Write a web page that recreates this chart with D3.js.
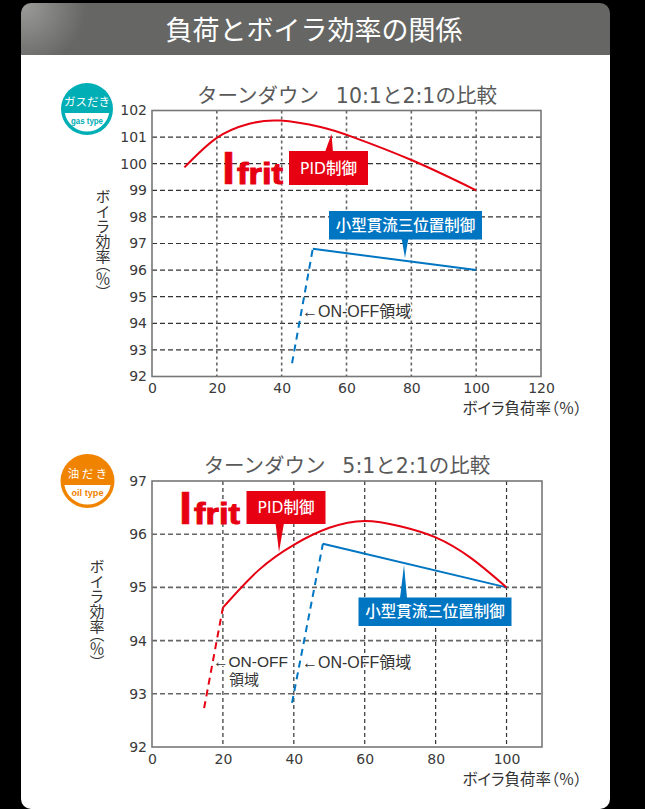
<!DOCTYPE html>
<html lang="ja">
<head>
<meta charset="utf-8">
<title>負荷とボイラ効率の関係</title>
<script src="https://cdn.jsdelivr.net/npm/d3@7/dist/d3.min.js"></script>
<style>
  html, body { margin: 0; padding: 0; background: #000; }
  svg { display: block; }
  text { font-family: "Liberation Sans", "Noto Sans CJK JP", sans-serif; }
  .tick text { font-family: "DejaVu Sans", sans-serif; font-size: 14px; fill: #3a3a3a; }
</style>
</head>
<body>
<svg id="page" width="645" height="809"></svg>
<script>
// Boiler efficiency against load: turndown 10:1 vs 2:1 (gas)
const gasTicksX = [0, 20, 40, 60, 80, 100, 120];
const gasTicksY = [92, 93, 94, 95, 96, 97, 98, 99, 100, 101, 102];
const gasPid = [[10, 99.86], [20, 100.97], [30, 101.5], [39.5, 101.62], [52, 101.38], [62, 101.0], [80.4, 100.12], [100, 99.0]];
const gasSmall = [[49.6, 96.8], [100, 96.0]];
const gasSmallOnOff = [[43.2, 92.5], [49.6, 96.8]];

// Turndown 5:1 vs 2:1 (oil)
const oilTicksX = [0, 20, 40, 60, 80, 100];
const oilTicksY = [92, 93, 94, 95, 96, 97];
const oilPid = [[20, 94.62], [30, 95.32], [40, 95.8], [50, 96.12], [60, 96.25], [70, 96.15], [80, 95.94], [90, 95.55], [100, 95.0]];
const oilPidOnOff = [[14.7, 92.73], [20, 94.62]];
const oilSmall = [[48.2, 95.82], [100, 95.0]];
const oilSmallOnOff = [[39.5, 92.83], [48.2, 95.82]];

const RED = "#e60012", BLUE = "#0075c2";
const CJK_WIDE = '"DejaVu Sans", "Noto Sans CJK JP"';
const CJK = '"Noto Sans CJK JP"';
const svg = d3.select("#page");

// Panel and header band
const defs = svg.append("defs");
const shine = defs.append("radialGradient").attr("id", "shine")
  .attr("gradientUnits", "userSpaceOnUse").attr("cx", 24).attr("cy", 6).attr("r", 62);
shine.append("stop").attr("offset", 0).attr("stop-color", "#9a9b99");
shine.append("stop").attr("offset", 1).attr("stop-color", "#666764");
svg.append("path").attr("fill", "#fff")
  .attr("d", "M21,55 H610 V799 a10,10 0 0 1 -10,10 H31 a10,10 0 0 1 -10,-10 Z");
svg.append("path").attr("fill", "url(#shine)")
  .attr("d", "M21,55 V13 a10,10 0 0 1 10,-10 H600 a10,10 0 0 1 10,10 V55 Z");
svg.append("text").attr("x", 314).attr("y", 40).attr("text-anchor", "middle")
  .attr("fill", "#fff").attr("font-size", 27).style("font-family", CJK)
  .text("負荷とボイラ効率の関係");

function plot(o) {
  const x = d3.scaleLinear().domain(o.xDomain).range([o.left, o.right]);
  const y = d3.scaleLinear().domain(o.yDomain).range([o.bottom, o.top]);
  const g = svg.append("g");

  g.append("text").attr("x", o.titleX).attr("y", o.top - 8).attr("text-anchor", "middle")
    .attr("fill", "#595959").attr("font-size", 20.5).style("font-family", CJK_WIDE)
    .text(o.title);

  // Dashed grid
  g.selectAll(".gy").data(o.ticksY.slice(1, -1)).join("line")
    .attr("x1", o.left).attr("x2", o.right)
    .attr("y1", d => y(d)).attr("y2", d => y(d))
    .attr("stroke", o.hColor).attr("stroke-width", o.hWidth).attr("stroke-dasharray", o.hDash);
  g.selectAll(".gx").data(o.ticksX.slice(1).filter(d => d < o.xDomain[1])).join("line")
    .attr("y1", o.top).attr("y2", o.bottom)
    .attr("x1", d => x(d)).attr("x2", d => x(d))
    .attr("stroke", o.vColor).attr("stroke-width", o.vWidth).attr("stroke-dasharray", o.vDash);

  // Axes
  const ax = g.append("g").attr("transform", `translate(0,${o.bottom})`)
    .call(d3.axisBottom(x).tickValues(o.ticksX).tickFormat(d3.format("d")).tickSize(0).tickPadding(7));
  const ay = g.append("g").attr("transform", `translate(${o.left},0)`)
    .call(d3.axisLeft(y).tickValues(o.ticksY).tickFormat(d3.format("d")).tickSize(0).tickPadding(5));
  ax.select(".domain").remove();
  ay.select(".domain").remove();
  g.append("rect").attr("x", o.left).attr("y", o.top)
    .attr("width", o.right - o.left).attr("height", o.bottom - o.top)
    .attr("fill", "none").attr("stroke", "#777").attr("stroke-width", 1.6);

  g.append("text").attr("x", 582).attr("y", o.bottom + 37.5).attr("text-anchor", "end")
    .attr("fill", "#333").attr("font-size", 15.5).style("font-family", CJK)
    .style("font-feature-settings", '"palt"')
    .text("ボイラ負荷率（％）");
  const yLabel = g.append("text")
    .attr("transform", `translate(${o.yLabelX},${o.yLabelY})`)
    .style("writing-mode", "vertical-rl").style("font-family", CJK)
    .attr("fill", "#333").attr("font-size", 15);
  yLabel.append("tspan").text("ボイラ効率");
  yLabel.append("tspan").style("font-feature-settings", '"vpal"').text("（％）");

  // Efficiency curves
  const straight = d3.line().x(d => x(d[0])).y(d => y(d[1]));
  const smooth = d3.line().x(d => x(d[0])).y(d => y(d[1])).curve(d3.curveNatural);
  o.dashed.forEach(s => g.append("path").attr("d", straight(s.data)).attr("fill", "none")
    .attr("stroke", s.color).attr("stroke-width", 2).attr("stroke-dasharray", "7 5"));
  g.append("path").attr("d", straight(o.small)).attr("fill", "none").attr("stroke", BLUE).attr("stroke-width", 2);
  g.append("path").attr("d", smooth(o.pid)).attr("fill", "none").attr("stroke", RED).attr("stroke-width", 2);

  o.callouts.forEach(c => callout(g, c));
  // Notes sit on a white halo so the grid does not run through them
  o.notes.forEach(n => {
    g.append("text").attr("x", n.x).attr("y", n.y).attr("fill", "#333").attr("font-size", n.size || 16)
      .attr("stroke", "#fff").attr("stroke-width", 2.5).style("paint-order", "stroke").text(n.text);
  });
  logo(g, o.logoX, o.logoY);
  badge(g, o.badge);
}

// Filled label box with a pointer running to the curve
function callout(g, c) {
  const [a, b] = c.base;
  g.append("path").attr("fill", c.color)
    .attr("d", `M${a},${c.baseY} L${c.tip[0]},${c.tip[1]} L${b},${c.baseY} Z`);
  g.append("rect").attr("x", c.x).attr("y", c.y).attr("width", c.w).attr("height", c.h).attr("fill", c.color);
  g.append("text").attr("x", c.x + c.w / 2).attr("y", c.y + c.h / 2 + 5.5).attr("text-anchor", "middle")
    .attr("fill", "#fff").attr("font-size", 15.5).attr("font-weight", 500)
    .style("font-family", CJK_WIDE).text(c.text);
}

// Condensed brand wordmark
function logo(g, lx, ly) {
  g.append("text").attr("x", lx - 3).attr("y", ly).attr("fill", RED).attr("stroke", RED).attr("stroke-width", 0.6)
    .attr("font-size", 47).attr("font-weight", 700).text("I");
  g.append("text").attr("x", lx + 12).attr("y", ly).attr("fill", RED).attr("stroke", RED).attr("stroke-width", 1)
    .attr("font-size", 30).attr("font-weight", 700).attr("textLength", 46).attr("lengthAdjust", "spacingAndGlyphs")
    .text("frit");
}

// Fuel-type round badge
function badge(g, b) {
  g.append("circle").attr("cx", b.x).attr("cy", b.y).attr("r", b.r).attr("fill", b.color);
  const inner = b.r - 3.5, dy = 4;
  const chord = Math.sqrt(inner * inner - dy * dy);
  g.append("path").attr("fill", "#fff")
    .attr("d", `M${b.x - chord},${b.y + dy} H${b.x + chord} A${inner},${inner} 0 0 1 ${b.x - chord},${b.y + dy} Z`);
  g.append("text").attr("x", b.x).attr("y", b.y - 3).attr("text-anchor", "middle")
    .attr("fill", "#fff").attr("font-size", 11.5).style("font-family", CJK).text(b.label);
  g.append("text").attr("x", b.x).attr("y", b.y + 15).attr("text-anchor", "middle")
    .attr("fill", b.color).attr("font-size", 9.5).attr("font-weight", 700)
    .attr("textLength", 32).attr("lengthAdjust", "spacingAndGlyphs")
    .style("font-family", '"Liberation Sans Narrow", "Liberation Sans"').text(b.sub);
}

plot({
  title: "ターンダウン\u2002 10:1と2:1の比較", titleX: 347,
  xDomain: [0, 120], yDomain: [92, 102], ticksX: gasTicksX, ticksY: gasTicksY,
  left: 152, right: 541, top: 110.5, bottom: 376.5,
  hColor: "#333", hWidth: 1.2, hDash: "5 3", vColor: "#666", vWidth: 1.6, vDash: "3 3",
  yLabelX: 103, yLabelY: 189,
  pid: gasPid, small: gasSmall,
  dashed: [{ data: gasSmallOnOff, color: BLUE }],
  callouts: [
    { x: 289, y: 151, w: 79, h: 34, color: RED, text: "PID制御", base: [325, 333], baseY: 152, tip: [331.5, 134] },
    { x: 329, y: 211, w: 153, h: 28.5, color: BLUE, text: "小型貫流三位置制御", base: [401.5, 408.5], baseY: 238, tip: [405, 258] }
  ],
  notes: [{ x: 302, y: 317, text: "←ON-OFF領域" }],
  logoX: 225, logoY: 184,
  badge: { x: 87, y: 109, r: 26, color: "#00aeb5", label: "ガスだき", sub: "gas type" }
});

plot({
  title: "ターンダウン\u2002 5:1と2:1の比較", titleX: 347,
  xDomain: [0, 110], yDomain: [92, 97], ticksX: oilTicksX, ticksY: oilTicksY,
  left: 152, right: 542, top: 481, bottom: 747,
  hColor: "#666", hWidth: 1.6, hDash: "5 3", vColor: "#333", vWidth: 1.2, vDash: "4 3",
  yLabelX: 97, yLabelY: 559,
  pid: oilPid, small: oilSmall,
  dashed: [{ data: oilPidOnOff, color: RED }, { data: oilSmallOnOff, color: BLUE }],
  callouts: [
    { x: 246.5, y: 491, w: 79, h: 33, color: RED, text: "PID制御", base: [275.5, 284], baseY: 523, tip: [279, 552] },
    { x: 358.5, y: 597.5, w: 153, h: 28.5, color: BLUE, text: "小型貫流三位置制御", base: [400, 407], baseY: 598, tip: [404, 565] }
  ],
  notes: [
    { x: 213, y: 667, size: 15.5, text: "←ON-OFF" },
    { x: 229, y: 685, size: 15, text: "領域" },
    { x: 302, y: 668, text: "←ON-OFF領域" }
  ],
  logoX: 182, logoY: 524,
  badge: { x: 87.5, y: 481, r: 27, color: "#f08300", label: "油 だ き", sub: "oil type" }
});
</script>
</body>
</html>
